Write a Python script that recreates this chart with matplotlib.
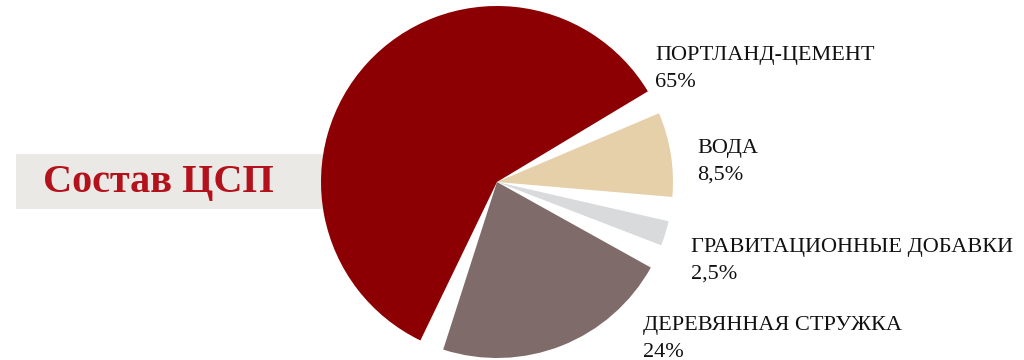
import matplotlib.pyplot as plt
import numpy as np
from matplotlib.patches import Rectangle, Wedge

LABELS = ["ПОРТЛАНД-ЦЕМЕНТ", "ВОДА", "ГРАВИТАЦИОННЫЕ ДОБАВКИ", "ДЕРЕВЯННАЯ СТРУЖКА"]
VALUES = [65, 8.5, 2.5, 24]
COLORS = ["#8c0003", "#e5d0aa", "#d9dadc", "#7f6c6a"]
TITLE = "Состав ЦСП"

# counterclockwise order of slices, starting at the top-right edge of the cement slice
ORDER = [0, 3, 2, 1]
GAP = 8.0
START = 31.0

# label anchors in pixels (x, baseline of first line, y measured from top)
LABEL_POS = [(655, 60), (697, 153), (691, 252), (643, 330)]

fig = plt.figure(figsize=(10.24, 3.6), dpi=100)
ax = fig.add_axes([0, 0, 1, 1])
ax.set_xlim(0, 1024)
ax.set_ylim(0, 360)
ax.axis("off")

# title box, partly hidden under the pie
ax.add_patch(Rectangle((16, 360 - 209), 320, 55, facecolor="#ebe9e6", edgecolor="none", zorder=1))
ax.text(43, 360 - 192, TITLE, fontsize=29, fontweight="bold", family="Liberation Serif",
        color="#b3111b", va="baseline", ha="left", zorder=3)

cx, cy, radius = 497, 360 - 182, 176
values = np.array(VALUES, dtype=float)
spans = values / values.sum() * (360 - GAP * len(values))

cursor = START
for i in ORDER:
    ax.add_patch(Wedge((cx, cy), radius, cursor, cursor + spans[i],
                       facecolor=COLORS[i], edgecolor="none", zorder=2))
    cursor += spans[i] + GAP

for label, value, (x, y) in zip(LABELS, VALUES, LABEL_POS):
    pct = f"{value:g}%".replace(".", ",")
    ax.text(x, 360 - y, label, fontsize=16, family="Liberation Serif", color="#111111",
            va="baseline", ha="left")
    ax.text(x, 360 - y - 27, pct, fontsize=16, family="Liberation Serif", color="#111111",
            va="baseline", ha="left")

fig.savefig("out.png", dpi=100, facecolor="white")
